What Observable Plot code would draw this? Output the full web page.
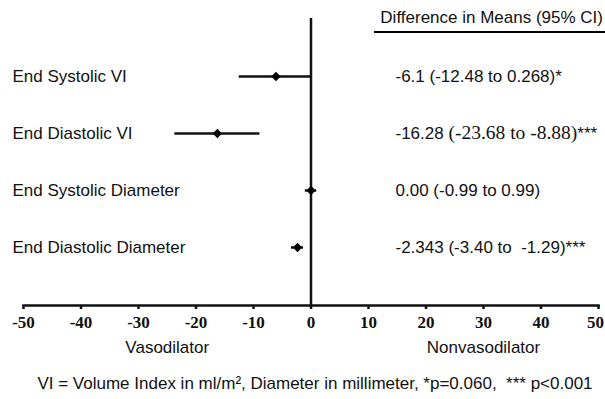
<!DOCTYPE html>
<html>
<head>
<meta charset="utf-8">
<script src="https://cdn.jsdelivr.net/npm/d3@7"></script>
<script src="https://cdn.jsdelivr.net/npm/@observablehq/plot@0.6"></script>
<style>
  html, body { margin: 0; padding: 0; background: #fff; }
  #wrap { position: relative; width: 605px; height: 399px; overflow: hidden; }
  #header {
    position: absolute; left: 374px; top: 0; width: 229px; height: 23px;
    padding: 8px 2px 0 0; line-height: 20px; text-align: right;
    border-bottom: 2px solid #000;
    font-family: "Liberation Sans", Arial, sans-serif; font-size: 17px; color: #111;
  }
</style>
</head>
<body>
<div id="wrap"><div id="header">Difference in Means (95% CI)</div></div>
<script>
const measures = ["End Systolic VI", "End Diastolic VI", "End Systolic Diameter", "End Diastolic Diameter"];
const means = [-6.1, -16.28, 0, -2.343];
const lower = [-12.48, -23.68, -0.99, -3.40];
const upper = [0.268, -8.88, 0.99, -1.29];
const meanLabels = ["-6.1", "-16.28", "0.00", "-2.343"];
const ciLabels = ["(-12.48 to 0.268)", "(-23.68 to -8.88)", "(-0.99 to 0.99)", "(-3.40 to  -1.29)"];
const stars = ["*", "***", "", "***"];
const xTicks = [-50, -40, -30, -20, -10, 0, 10, 20, 30, 40, 50];
const sideLabels = ["Vasodilator", "Nonvasodilator"];
const caption = "VI = Volume Index in ml/m², Diameter in millimeter, *p=0.060,  *** p<0.001";

const rows = measures.map((m, i) => ({
  measure: m, mean: means[i], lo: lower[i], hi: upper[i],
  est: meanLabels[i], ci: ciLabels[i], star: stars[i]
}));

const sans = "'Liberation Sans', Arial, sans-serif";
const serif = "'Liberation Serif', 'Times New Roman', serif";

const chart = Plot.plot({
  width: 605,
  height: 399,
  marginLeft: 23,
  marginRight: 7,
  marginTop: 18,
  marginBottom: 94,
  style: { fontFamily: sans, fontSize: "17px", color: "#111", background: "transparent" },
  x: { domain: [-50, 50], axis: null },
  y: { type: "point", domain: measures, padding: 1, axis: null },
  marks: [
    Plot.axisX({
      ticks: xTicks, tickSize: 4, tickPadding: 6, tickFormat: d => String(d),
      fontFamily: serif, fontWeight: "bold", fontSize: 17, strokeWidth: 2.5, label: null
    }),
    Plot.frame({ anchor: "bottom", strokeWidth: 2.5 }),
    Plot.ruleX([0], { strokeWidth: 2.5 }),
    Plot.ruleY(rows, { y: "measure", x1: "lo", x2: "hi", strokeWidth: 2.5 }),
    Plot.dot(rows, { y: "measure", x: "mean", symbol: "diamond2", r: 4.2, fill: "#000", stroke: "none" }),
    Plot.text(rows, { y: "measure", text: "measure", frameAnchor: "left", textAnchor: "start", dx: -11, fontSize: 17 }),
    Plot.text(rows, { y: "measure", text: d => `${d.est} ${d.ci}${d.star}`, frameAnchor: "right",
      textAnchor: "start", dx: -203, fontSize: 17, className: "ci-text" }),
    Plot.text([sideLabels[0]], { x: -25, frameAnchor: "bottom", dy: 47, fontSize: 17 }),
    Plot.text([sideLabels[1]], { x: 30, frameAnchor: "bottom", dy: 47, fontSize: 17 }),
    Plot.text([caption], { frameAnchor: "bottom", dx: 4, dy: 83, fontSize: 17 })
  ]
});

// Mixed fonts for the CI of the second row (serif in the original)
d3.select(chart).selectAll("g.ci-text text").each(function(d, i) {
  const r = rows[i];
  if (!r || r.measure !== "End Diastolic VI") return;
  const t = d3.select(this);
  t.text(null);
  t.append("tspan").text(r.est + " ");
  t.append("tspan").attr("font-family", serif).attr("font-size", 19.5).text(r.ci);
  t.append("tspan").text(r.star);
});

// keep the outermost tick label inside the picture
d3.select(chart).selectAll("text").filter(function() {
  return this.textContent === String(xTicks[xTicks.length - 1]);
}).attr("dx", -3);

document.getElementById("wrap").prepend(chart);
chart.style.position = "absolute";
chart.style.left = "0";
chart.style.top = "0";
</script>
</body>
</html>
